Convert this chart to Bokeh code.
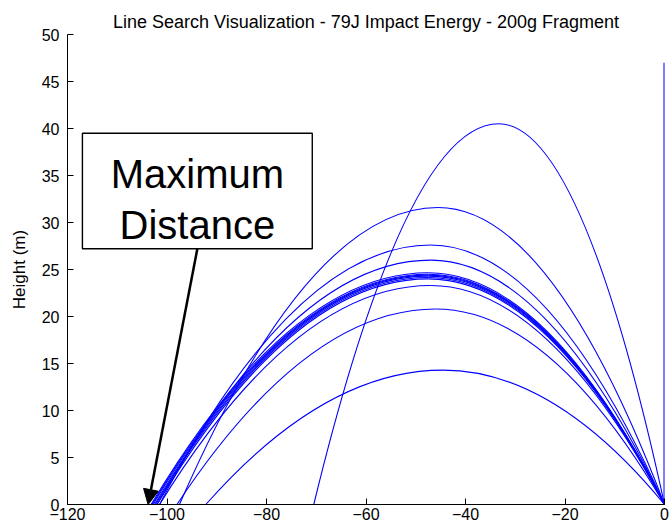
from bokeh.plotting import figure
from bokeh.models import Range1d, Arrow, NormalHead, Label, FixedTicker, ColumnDataSource
from bokeh.embed import file_html
from bokeh.resources import INLINE

# ---- data (metres) ----
# each trajectory: apex position, apex height, landing position
apex_x = [-33.3, -45.5, -47.0, -47.0, -47.5, -47.5, -47.5, -47.5, -47.5, -47.5, -47.0, -46.0, -44.5]
apex_h = [40.5, 31.6, 27.6, 26.0, 24.0, 24.15, 24.3, 24.4, 24.5, 24.65, 23.3, 20.8, 14.3]
land_x = [-70.5, -97.5, -101.5, -102.0, -102.0, -102.3, -102.5, -102.8, -103.0, -103.2, -101.5, -98.0, -92.2]
vertical_top = 47.0          # straight-up shot
max_distance = -103.8        # where the annotation arrow points
x_ticks = [-120, -100, -80, -60, -40, -20, 0]
y_ticks = [0, 5, 10, 15, 20, 25, 30, 35, 40, 45, 50]

title = "Line Search Visualization - 79J Impact Energy - 200g Fragment"
ylabel = "Height (m)"

# ---- figure ----
p = figure(width=670, height=530, x_range=Range1d(-120, 0), y_range=Range1d(0, 50),
           output_backend="svg", toolbar_location=None,
           min_border_left=67, min_border_right=6, min_border_top=34, min_border_bottom=26)
p.outline_line_color = None
p.xgrid.visible = False
p.ygrid.visible = False
p.background_fill_color = "white"
p.border_fill_color = "white"

p.title.text = title
p.title.align = "center"
p.title.text_font = "Liberation Sans"
p.title.text_font_size = "18px"
p.title.text_font_style = "normal"
p.title.text_color = "black"
p.title.standoff = 6

for ax in (p.xaxis[0], p.yaxis[0]):
    ax.axis_line_color = "black"
    ax.axis_line_width = 1
    ax.major_tick_in = 6
    ax.major_tick_out = 0
    ax.minor_tick_in = 0
    ax.minor_tick_out = 0
    ax.major_tick_line_color = "black"
    ax.major_label_text_font = "Liberation Sans"
    ax.major_label_text_font_size = "16px"
    ax.major_label_text_color = "black"
p.xaxis.ticker = FixedTicker(ticks=x_ticks)
p.yaxis.ticker = FixedTicker(ticks=y_ticks)
p.xaxis.major_label_standoff = 3
p.yaxis.major_label_standoff = 8
p.yaxis.axis_label = ylabel
p.yaxis.axis_label_text_font = "Liberation Sans"
p.yaxis.axis_label_text_font_size = "17px"
p.yaxis.axis_label_text_font_style = "normal"
p.yaxis.axis_label_text_color = "black"
p.yaxis.axis_label_standoff = 10

# ---- trajectories: each drawn as two quadratic arcs (ascent, descent) ----
n = len(apex_x)
up = ColumnDataSource(dict(x0=[0.0] * n, y0=[0.0] * n, x1=apex_x, y1=apex_h,
                           cx=[a / 2 for a in apex_x], cy=apex_h))
down = ColumnDataSource(dict(x0=apex_x, y0=apex_h, x1=land_x, y1=[0.0] * n,
                             cx=[(a + l) / 2 for a, l in zip(apex_x, land_x)], cy=apex_h))
p.quadratic(x0="x0", y0="y0", x1="x1", y1="y1", cx="cx", cy="cy", source=up,
            line_color="#0000ff", line_width=1.1)
p.quadratic(x0="x0", y0="y0", x1="x1", y1="y1", cx="cx", cy="cy", source=down,
            line_color="#0000ff", line_width=1.1)
p.segment(x0=[0], y0=[0], x1=[0], y1=[vertical_top], line_color="#0000ff", line_width=2)

# ---- annotation ----
box_l, box_r, box_b, box_t = -117.0, -70.8, 27.2, 39.5
p.quad(left=[box_l], right=[box_r], bottom=[box_b], top=[box_t],
       fill_color="white", line_color="black", line_width=1.4)
cx_box = (box_l + box_r) / 2
p.add_layout(Label(x=cx_box, y=35.2, text="Maximum", text_align="center",
                   text_baseline="alphabetic", text_font="Liberation Sans",
                   text_font_size="40px", text_color="black"))
p.add_layout(Label(x=cx_box, y=29.7, text="Distance", text_align="center",
                   text_baseline="alphabetic", text_font="Liberation Sans",
                   text_font_size="40px", text_color="black"))
p.add_layout(Arrow(end=NormalHead(size=15, fill_color="black", line_color="black"),
                   x_start=cx_box, y_start=box_b, x_end=max_distance, y_end=0,
                   line_color="black", line_width=2.5))

open("out.html", "w").write(file_html(p, INLINE))
